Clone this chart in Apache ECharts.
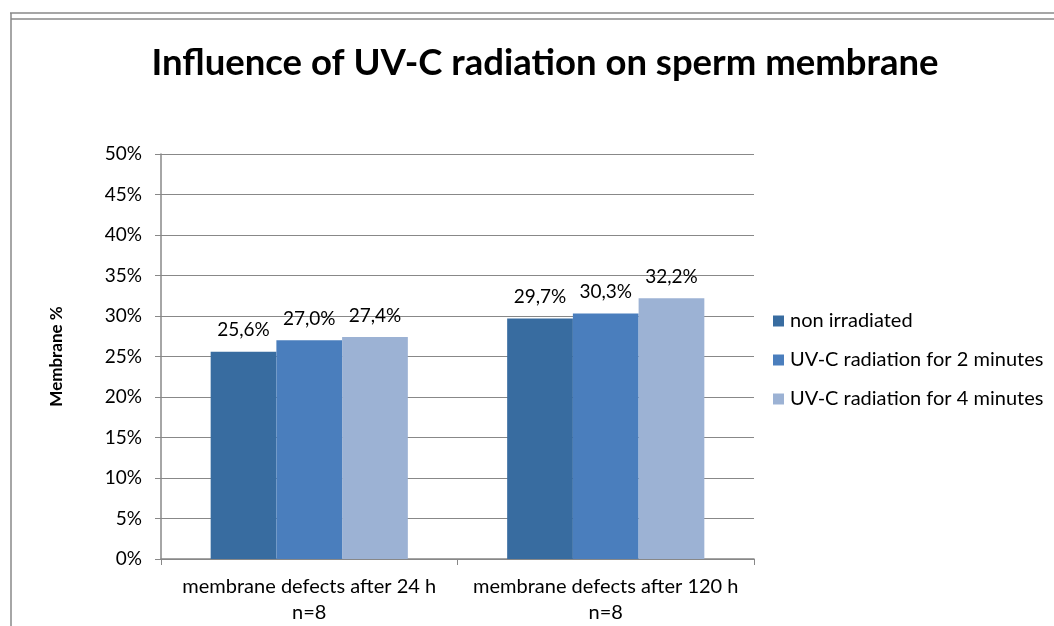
<!DOCTYPE html>
<html><head><meta charset="utf-8">
<script src="https://cdn.jsdelivr.net/npm/echarts@6/dist/echarts.min.js"></script>
<style>html,body{margin:0;padding:0;background:#fff}#c{width:1054px;height:626px}</style>
</head><body><div id="c"></div>
<script>
const categories = ['membrane defects after 24 h\nn=8', 'membrane defects after 120 h\nn=8'];
const seriesNames = ['non irradiated', 'UV-C radiation for 2 minutes', 'UV-C radiation for 4 minutes'];
const nonIrradiated = [25.6, 29.7];
const uvc2 = [27.0, 30.3];
const uvc4 = [27.4, 32.2];
const colors = ['#386CA0', '#4A7EBD', '#9CB2D4'];
const font = 'Lato, "Open Sans", sans-serif';
const chart = echarts.init(document.getElementById('c'));
const fmt = v => v.toFixed(1).replace('.', ',') + '%';
chart.setOption({
  animation: false,
  textStyle: {fontFamily: font},
  title: {text: 'Influence of UV-C radiation on sperm membrane', left: 540, textAlign: 'center', top: 40,
    textStyle: {fontFamily: font, fontSize: 36.5, fontWeight: 'bold', color: '#000'}},
  graphic: [
    {type: 'line', shape: {x1: 10, y1: 13, x2: 1054, y2: 13}, style: {stroke: '#888', lineWidth: 1.5}},
    {type: 'line', shape: {x1: 11, y1: 19, x2: 1054, y2: 19}, style: {stroke: '#888', lineWidth: 1.5}},
    {type: 'line', shape: {x1: 11, y1: 13, x2: 11, y2: 626}, style: {stroke: '#888', lineWidth: 1.5}}
  ],
  legend: {orient: 'vertical', left: 768, top: 306, itemWidth: 11, itemHeight: 11, itemGap: 19,
    icon: 'rect', data: seriesNames, textStyle: {fontFamily: font, fontSize: 20, color: '#000', padding: [0,0,0,1]}},
  grid: {left: 161, right: 300, top: 154, bottom: 67},
  xAxis: {type: 'category', data: categories,
    axisLine: {lineStyle: {color: '#888', width: 1.5}}, axisTick: {show: true, length: 6, lineStyle: {color: '#888'}},
    axisLabel: {interval: 0, hideOverlap: false, fontFamily: font, fontSize: 20, color: '#000', lineHeight: 26, margin: 15}},
  yAxis: {type: 'value', min: 0, max: 50, interval: 5,
    name: 'Membrane %', nameLocation: 'middle', nameGap: 96, nameRotate: 90, nameMoveOverlap: false,
    nameTextStyle: {fontFamily: font, fontSize: 17, fontWeight: 'bold', color: '#000'},
    axisLine: {show: true, lineStyle: {color: '#888', width: 1.5}},
    axisTick: {show: true, length: 6, lineStyle: {color: '#888'}},
    splitLine: {lineStyle: {color: '#888', width: 1.2}},
    axisLabel: {formatter: v => v + '%', fontFamily: font, fontSize: 19, color: '#000', margin: 19}},
  series: [nonIrradiated, uvc2, uvc4].map((d, i) => ({
    name: seriesNames[i], type: 'bar', data: d, barGap: '0%', barCategoryGap: '33.5%',
    itemStyle: {color: colors[i]},
    label: {show: true, position: 'top', distance: 12, formatter: p => fmt(p.value), fontFamily: font, fontSize: 19, color: '#000'}
  }))
});
</script></body></html>
